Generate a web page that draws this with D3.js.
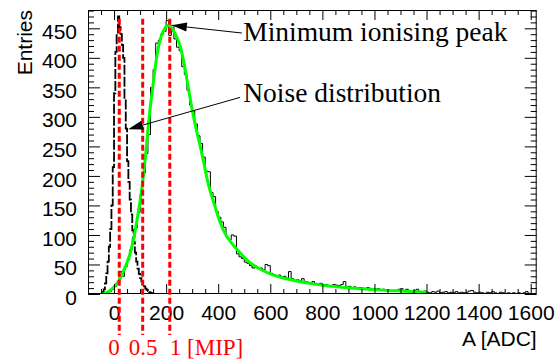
<!DOCTYPE html>
<html>
<head>
<meta charset="utf-8">
<title>MIP spectrum</title>
<style>
    body { margin: 0; background: #fff; }
</style>
</head>
<body>
<main></main>
<script src="https://cdn.jsdelivr.net/npm/d3@7/dist/d3.min.js"></script>
<script>
    // ---- data ----
    // MIP histogram: 10 ADC bins starting at -40
    var mipStart = -40, mipWidth = 10;
    var mipCounts = [
        1, 2, 4, 8, 13, 20, 38, 30, 46, 58,
        75, 95, 112, 138, 168, 205, 238, 270, 350, 380,
        425, 430, 440, 445, 463, 438, 455, 432, 418, 412,
        385, 372, 345, 320, 310, 288, 268, 255, 232, 208,
        207, 172, 165, 140, 130, 122, 113, 96, 92, 100,
        98, 68, 63, 60, 54, 52, 48, 44, 46, 43,
        44, 41, 50, 48, 35, 33, 31, 32, 29, 30,
        27, 38, 26, 22, 24, 22, 26, 21, 20, 19,
        21, 18, 17, 18, 15, 16, 14, 13, 16, 15,
        14, 16, 21, 12, 13, 11, 12, 10, 11, 10,
        9, 11, 8, 9, 8, 9, 7, 8, 6, 7,
        5, 6, 5, 8, 9, 6, 8, 5, 4, 6,
        8, 4, 3, 5, 3, 2, 4, 3, 5, 2,
        3, 4, 2, 3, 2, 4, 2, 3, 2, 3,
        5, 6, 3, 2, 3, 2, 1, 3, 2, 4,
        2, 1, 3, 2, 1, 2, 1, 2, 1, 2,
        1, 2, 4, 1
    ];

    // noise histogram: 5 ADC bins starting at -45
    var noiseStart = -45, noiseWidth = 5;
    var noiseCounts = [
        3, 8, 18, 35, 55, 80, 110, 150, 215, 340,
        410, 440, 470, 452, 440, 422, 400, 330, 280, 225,
        190, 160, 135, 108, 88, 70, 55, 43, 34, 27,
        21, 17, 13, 9, 7, 5, 3, 2, 1
    ];

    // fitted curve (green)
    var fitAdc = [-45, -30, -15, 0, 15, 30, 45, 60, 75, 90, 105, 120, 135, 150, 165, 180, 195, 210,
        225, 240, 255, 270, 285, 300, 315, 330, 345, 360, 375, 390, 405, 420, 435, 450, 475, 500,
        525, 550, 575, 600, 650, 700, 750, 800, 850, 900, 950, 1000, 1050, 1100, 1150, 1200];
    var fitVal = [0, 2, 6, 12, 20, 32, 48, 66, 93, 130, 173, 230, 300, 355, 405, 435, 450, 455,
        448, 436, 418, 388, 350, 312, 280, 252, 222, 190, 166, 145, 124, 108, 96, 87, 74, 62,
        52, 45, 39, 34, 27, 22, 18, 15, 12.5, 10.5, 9, 7.5, 6, 5, 4, 3.5];

    // red markers: pedestal, half MIP, MIP
    var mipAdc = [20, 110, 214];
    var mipLabels = ["0", "0.5", "1 [MIP]"];

    var xMajor = [0, 200, 400, 600, 800, 1000, 1200, 1400, 1600];
    var yMajor = [0, 50, 100, 150, 200, 250, 300, 350, 400, 450];

    // ---- svg ----
    var width = 555,
        height = 360;
    var margin = {left: 88, right: 18.3, top: 10, bottom: 66};
    var svg = d3.select("main").append("svg")
        .attr("width", width).attr("height", height)
        .style("display", "block");

    var x = d3.scaleLinear().domain([-100, 1623]).range([margin.left, width - margin.right]);
    var y = d3.scaleLinear().domain([0, 481]).range([height - margin.bottom, margin.top]);

    var sans = "'Liberation Sans', Arial, Helvetica, sans-serif";
    var serif = "'Liberation Serif', 'Times New Roman', serif";

    // clip to frame
    svg.append("clipPath").attr("id", "frame")
        .append("rect")
        .attr("x", margin.left).attr("y", margin.top)
        .attr("width", width - margin.left - margin.right)
        .attr("height", height - margin.top - margin.bottom);

    function stepPoints(start, w, counts) {
        var pts = [[start, 0]];
        counts.forEach(function (c, i) { pts.push([start + i * w, c]); });
        pts.push([start + counts.length * w, 0]);
        pts.push([start + counts.length * w, 0]);
        return pts;
    }
    var step = d3.line()
        .x(function (d) { return x(d[0]); })
        .y(function (d) { return y(d[1]); })
        .curve(d3.curveStepAfter);

    var plot = svg.append("g").attr("clip-path", "url(#frame)");

    // noise histogram (dashed)
    plot.append("path")
        .attr("d", step(stepPoints(noiseStart, noiseWidth, noiseCounts)))
        .attr("fill", "none").attr("stroke", "#000")
        .attr("stroke-width", 1.8)
        .attr("stroke-dasharray", "10,2");

    // MIP histogram
    plot.append("path")
        .attr("d", step(stepPoints(mipStart, mipWidth, mipCounts)))
        .attr("fill", "none").attr("stroke", "#000")
        .attr("stroke-width", 1);

    // fit
    var fitLine = d3.line()
        .x(function (d, i) { return x(fitAdc[i]); })
        .y(function (d) { return y(d); })
        .curve(d3.curveMonotoneX);
    plot.append("path")
        .attr("d", fitLine(fitVal))
        .attr("fill", "none").attr("stroke", "#00ff00")
        .attr("stroke-width", 3);

    // axes, ticks inside (ROOT style)
    function noLabel() { return ""; }
    var xMinor = d3.range(-50, 1625, 50).filter(function (v) { return v % 200 !== 0; });
    var yMinor = d3.range(10, 481, 10).filter(function (v) { return v % 50 !== 0; });

    svg.append("g").attr("transform", "translate(0," + y(0) + ")")
        .call(d3.axisBottom(x).tickValues(xMajor).tickSize(-10).tickSizeOuter(0)
            .tickPadding(11).tickFormat(d3.format("d")));
    svg.append("g").attr("transform", "translate(0," + y(0) + ")")
        .call(d3.axisBottom(x).tickValues(xMinor).tickSize(-5).tickSizeOuter(0).tickFormat(noLabel));
    svg.append("g").attr("transform", "translate(0," + margin.top + ")")
        .call(d3.axisTop(x).tickValues(xMajor).tickSize(-10).tickSizeOuter(0).tickFormat(noLabel));
    svg.append("g").attr("transform", "translate(0," + margin.top + ")")
        .call(d3.axisTop(x).tickValues(xMinor).tickSize(-5).tickSizeOuter(0).tickFormat(noLabel));

    var gy = svg.append("g").attr("transform", "translate(" + margin.left + ",0)")
        .call(d3.axisLeft(y).tickValues(yMajor).tickSize(-12).tickSizeOuter(0).tickPadding(11));
    svg.append("g").attr("transform", "translate(" + margin.left + ",0)")
        .call(d3.axisLeft(y).tickValues(yMinor).tickSize(-6).tickSizeOuter(0).tickFormat(noLabel));
    svg.append("g").attr("transform", "translate(" + (width - margin.right) + ",0)")
        .call(d3.axisRight(y).tickValues(yMajor).tickSize(-12).tickSizeOuter(0).tickFormat(noLabel));
    svg.append("g").attr("transform", "translate(" + (width - margin.right) + ",0)")
        .call(d3.axisRight(y).tickValues(yMinor).tickSize(-6).tickSizeOuter(0).tickFormat(noLabel));

    svg.selectAll(".domain").remove();
    svg.selectAll(".tick line").attr("stroke", "#000");
    svg.selectAll(".tick text").attr("fill", "#000")
        .style("font-family", sans).style("font-size", "21px");
    gy.selectAll(".tick text").attr("dy", "0.48em");

    // frame
    svg.append("rect")
        .attr("x", margin.left + 0.5).attr("y", margin.top + 0.5)
        .attr("width", width - margin.left - margin.right - 1)
        .attr("height", height - margin.top - margin.bottom - 1)
        .attr("fill", "none").attr("stroke", "#000");

    // red dashed markers
    svg.selectAll(".marker").data(mipAdc).enter().append("line")
        .attr("class", "marker")
        .attr("x1", function (d) { return x(d); }).attr("x2", function (d) { return x(d); })
        .attr("y1", y(466)).attr("y2", height - 25)
        .attr("stroke", "#ff0000").attr("stroke-width", 3)
        .attr("stroke-dasharray", "6,3");

    var shift = [-11, -14, 0];
    svg.selectAll(".mipLabel").data(mipLabels).enter().append("text")
        .attr("class", "mipLabel")
        .attr("x", function (d, i) { return x(mipAdc[i]) + shift[i]; })
        .attr("y", height - 5)
        .attr("fill", "#ff0000")
        .style("font-family", serif).style("font-size", "23px")
        .text(function (d) { return d; });

    // axis titles
    svg.append("text")
        .attr("x", width - margin.right).attr("y", 346)
        .attr("text-anchor", "end")
        .style("font-family", sans).style("font-size", "21px")
        .text("A [ADC]");
    svg.append("text")
        .attr("transform", "translate(31.5," + margin.top + ") rotate(-90)")
        .attr("text-anchor", "end")
        .style("font-family", sans).style("font-size", "21px")
        .text("Entries");

    // annotations with arrows
    var notes = [
        {text: "Minimum ionising peak", tx: 496, ty: 428.5, fromX: 491, fromY: 442, toX: 222, toY: 455},
        {text: "Noise distribution", tx: 496, ty: 325.5, fromX: 484, fromY: 333, toX: 54, toY: 279}
    ];
    notes.forEach(function (n) {
        var x1 = x(n.fromX), y1 = y(n.fromY), x2 = x(n.toX), y2 = y(n.toY);
        var ang = Math.atan2(y2 - y1, x2 - x1);
        var len = 15, hw = 4.5;
        var bx = x2 - len * Math.cos(ang), by = y2 - len * Math.sin(ang);
        svg.append("line")
            .attr("x1", x1).attr("y1", y1).attr("x2", bx).attr("y2", by)
            .attr("stroke", "#000").attr("stroke-width", 1);
        svg.append("path")
            .attr("d", "M" + x2 + "," + y2 +
                "L" + (bx + hw * Math.sin(ang)) + "," + (by - hw * Math.cos(ang)) +
                "L" + (bx - hw * Math.sin(ang)) + "," + (by + hw * Math.cos(ang)) + "Z")
            .attr("fill", "#000");
        svg.append("text")
            .attr("x", x(n.tx)).attr("y", y(n.ty))
            .style("font-family", serif).style("font-size", "27.5px")
            .text(n.text);
    });
</script>
</body>
</html>
